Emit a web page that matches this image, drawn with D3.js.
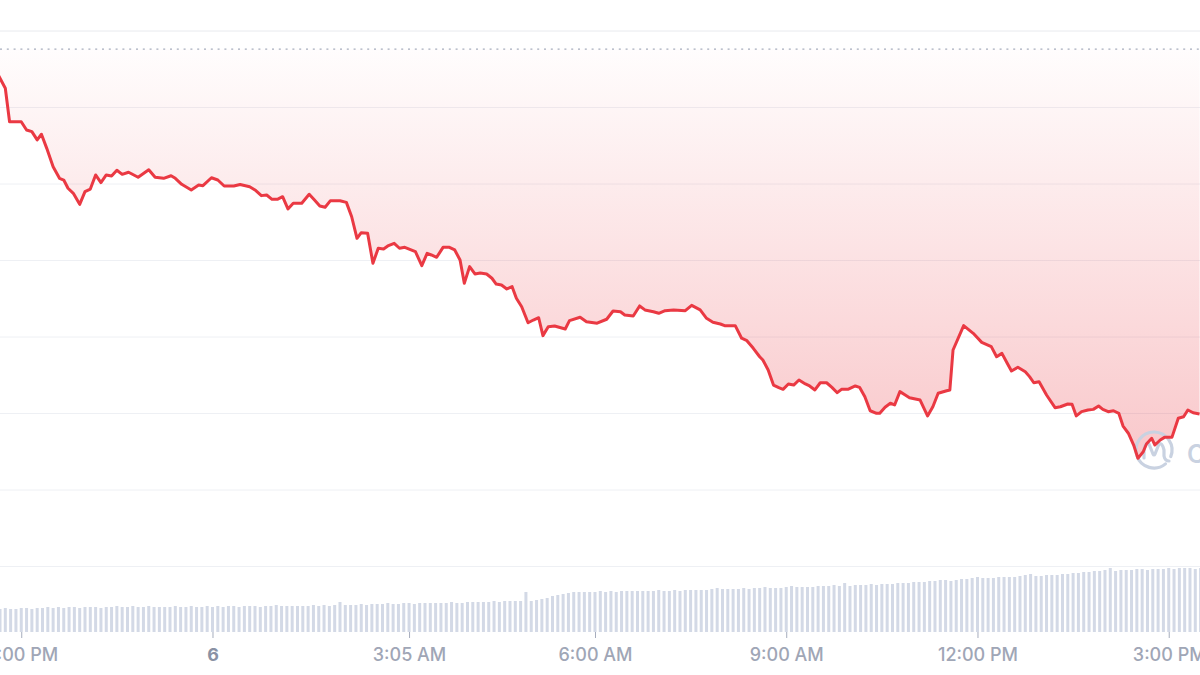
<!DOCTYPE html>
<html>
<head>
<meta charset="utf-8">
<script src="https://cdn.jsdelivr.net/npm/d3@7"></script>
<style>
  html, body { margin: 0; padding: 0; background: #fff; overflow: hidden; }
  #chart { width: 1200px; height: 675px; }
</style>
</head>
<body>
<div id="chart"></div>
<script>

// price path, times (20:xx - 23:xx is the 5th, the rest the 6th)
var priceTimes = ["20:35","20:40","20:45","20:49","21:00","21:05","21:10","21:15","21:19","21:24",
  "21:30","21:36","21:40","21:44","21:49","21:55","22:00","22:05","22:10","22:15",
  "22:20","22:25","22:30","22:35","22:41","22:50","23:00","23:06","23:14","23:21",
  "23:25","23:31","23:40","23:47","23:51","23:59","00:05","00:11","00:20","00:26",
  "00:35","00:40","00:46","00:51","00:56","01:01","01:06","01:11","01:16","01:24",
  "01:31","01:36","01:41","01:46","01:51","02:00","02:06","02:11","02:16","02:20",
  "02:26","02:31","02:36","02:41","02:45","02:51","02:56","03:01","03:11","03:17",
  "03:22","03:26","03:31","03:37","03:43","03:48","03:53","03:57","04:02","04:07",
  "04:12","04:18","04:23","04:27","04:32","04:37","04:42","04:46","04:51","04:57",
  "05:02","05:07","05:11","05:16","05:22","05:32","05:36","05:46","05:52","06:02",
  "06:11","06:17","06:24","06:28","06:36","06:42","06:47","06:55","07:00","07:06",
  "07:14","07:25","07:31","07:39","07:45","07:51","07:58","08:02","08:12","08:18",
  "08:23","08:29","08:35","08:38","08:43","08:48","08:53","08:57","09:02","09:07",
  "09:12","09:18","09:22","09:27","09:32","09:38","09:43","09:48","09:52","09:58",
  "10:05","10:09","10:14","10:19","10:25","10:28","10:33","10:38","10:42","10:47",
  "10:52","10:56","11:06","11:13","11:18","11:23","11:31","11:34","11:37","11:47",
  "11:56","12:04","12:13","12:18","12:23","12:28","12:32","12:38","12:45","12:49",
  "12:53","12:58","13:05","13:13","13:18","13:25","13:29","13:33","13:38","13:44",
  "13:49","13:54","13:58","14:03","14:08","14:13","14:17","14:22","14:27","14:31",
  "14:36","14:39","14:44","14:47","14:52","14:56","15:03","15:09","15:14","15:18",
  "15:23","15:29"];

var prices = [23.758,23.691,23.626,23.407,23.407,23.353,23.342,23.288,23.325,23.233,
  23.113,23.037,23.026,22.972,22.939,22.867,22.950,22.967,23.059,23.009,
  23.059,23.052,23.090,23.063,23.077,23.044,23.093,23.044,23.037,23.054,
  23.037,22.998,22.961,22.993,22.989,23.041,23.026,22.987,22.987,22.997,
  22.982,22.961,22.924,22.928,22.900,22.900,22.917,22.837,22.874,22.874,
  22.933,22.895,22.856,22.848,22.891,22.891,22.880,22.786,22.645,22.682,
  22.678,22.482,22.580,22.575,22.595,22.612,22.580,22.586,22.558,22.466,
  22.547,22.536,22.521,22.586,22.586,22.569,22.503,22.351,22.460,22.412,
  22.418,22.412,22.384,22.346,22.340,22.314,22.329,22.253,22.198,22.093,
  22.111,22.126,22.009,22.067,22.072,22.052,22.107,22.129,22.100,22.090,
  22.116,22.170,22.165,22.144,22.137,22.203,22.177,22.165,22.155,22.172,
  22.177,22.172,22.207,22.177,22.122,22.096,22.085,22.074,22.074,21.992,
  21.976,21.926,21.871,21.850,21.784,21.686,21.669,21.658,21.693,21.686,
  21.719,21.693,21.680,21.654,21.701,21.701,21.671,21.636,21.658,21.658,
  21.680,21.671,21.610,21.518,21.501,21.501,21.541,21.567,21.556,21.643,
  21.621,21.603,21.588,21.484,21.544,21.632,21.649,21.654,21.915,22.074,
  22.024,21.965,21.937,21.871,21.893,21.828,21.778,21.802,21.773,21.741,
  21.701,21.708,21.621,21.538,21.544,21.562,21.560,21.484,21.512,21.523,
  21.527,21.549,21.527,21.512,21.518,21.501,21.418,21.371,21.294,21.207,
  21.250,21.301,21.338,21.294,21.327,21.344,21.344,21.469,21.479,21.523,
  21.505,21.497];

var openPrice = 23.882;   // dotted reference line
var gridPrices = [24.0, 23.5, 23.0, 22.5, 22.0, 21.5, 21.0, 20.5];

// volume, one bar every 5 minutes from 20:35 to 15:30
var volumes = [2.3,2.3,2.4,2.3,2.3,2.4,2.4,2.3,2.4,2.4,2.5,
  2.4,2.5,2.4,2.5,2.5,2.4,2.5,2.5,2.5,2.4,
  2.5,2.5,2.6,2.5,2.5,2.6,2.5,2.5,2.6,2.5,
  2.5,2.5,2.5,2.6,2.5,2.5,2.6,2.5,2.5,2.6,
  2.5,2.6,2.5,2.6,2.6,2.5,2.6,2.6,2.6,2.5,
  2.6,2.6,2.7,2.6,2.6,2.6,2.6,2.6,2.6,2.7,
  2.6,2.7,2.6,2.7,3.0,2.7,2.7,2.7,2.8,2.7,
  2.8,2.8,2.8,2.9,2.8,2.8,2.9,2.9,2.8,2.9,
  2.9,2.9,2.9,2.9,2.9,3.0,2.9,2.9,3.0,3.0,
  3.0,3.0,3.0,3.1,3.0,3.1,3.1,3.1,3.1,4.0,
  3.1,3.2,3.3,3.4,3.6,3.7,3.8,3.9,4.0,4.0,
  4.0,4.0,4.0,4.1,4.0,4.1,4.0,4.1,4.1,4.1,
  4.1,4.1,4.1,4.1,4.2,4.1,4.1,4.2,4.1,4.2,
  4.2,4.2,4.2,4.2,4.3,4.4,4.3,4.3,4.3,4.3,
  4.4,4.3,4.4,4.4,4.5,4.4,4.4,4.4,4.5,4.6,
  4.5,4.5,4.5,4.5,4.6,4.6,4.6,4.7,4.6,4.9,
  4.6,4.7,4.7,4.7,4.8,4.7,4.8,4.8,4.8,4.9,
  4.9,4.9,5.0,5.0,5.0,5.1,5.1,5.2,5.2,5.1,
  5.2,5.3,5.3,5.4,5.5,5.4,5.4,5.4,5.5,5.5,
  5.5,5.5,5.6,5.7,5.8,5.6,5.6,5.7,5.7,5.7,
  5.8,5.8,5.9,5.9,6.0,6.0,6.1,6.1,6.2,6.4,
  6.1,6.2,6.2,6.2,6.3,6.3,6.2,6.3,6.3,6.3,
  6.4,6.3,6.4,6.4,6.4,6.3,6.4];

var tickTimes = ["21:00","00:00","03:05","06:00","09:00","12:00","15:00"];
var tickLabels = ["9:00 PM","6","3:05 AM","6:00 AM","9:00 AM","12:00 PM","3:00 PM"];


function parseT(s){
    var h = +s.slice(0, 2), m = +s.slice(3, 5);
    return new Date(2023, 2, h >= 20 ? 5 : 6, h, m);
}

var width = 1200, height = 675;
var red = "#ea3943";

var svg = d3.select("#chart").append("svg")
    .attr("width", width)
    .attr("height", height);

var x = d3.scaleTime()
    .domain([parseT("20:40"), parseT("15:30")])
    .range([0, 1200.6]);

var y = d3.scaleLinear()
    .domain([20.5, 24.0])
    .range([566.5, 31]);

var vol = d3.scaleLinear()
    .domain([0, 8])
    .range([632, 552]);

var data = priceTimes.map(function(t, i){ return {t: parseT(t), p: prices[i]}; });

// gradient under the line
var defs = svg.append("defs");
var grad = defs.append("linearGradient")
    .attr("id", "redFill")
    .attr("gradientUnits", "userSpaceOnUse")
    .attr("x1", 0).attr("x2", 0)
    .attr("y1", y(openPrice)).attr("y2", 460);
grad.append("stop").attr("offset", 0).attr("stop-color", red).attr("stop-opacity", 0.01);
grad.append("stop").attr("offset", 1).attr("stop-color", red).attr("stop-opacity", 0.28);

// horizontal grid
svg.append("g").selectAll("line")
    .data(gridPrices)
    .enter().append("line")
    .attr("x1", 0).attr("x2", width)
    .attr("y1", d => y(d)).attr("y2", d => y(d))
    .attr("stroke", (d, i) => i == 0 ? "#e8eaee" : "#eef0f4")
    .attr("stroke-width", 1);

// area between open price and the line
var area = d3.area()
    .x(d => x(d.t))
    .y0(y(openPrice))
    .y1(d => y(d.p));

svg.append("path")
    .datum(data)
    .attr("d", area)
    .attr("fill", "url(#redFill)");

// dotted open price line
svg.append("line")
    .attr("x1", 0).attr("x2", width)
    .attr("y1", y(openPrice)).attr("y2", y(openPrice))
    .attr("stroke", "#a6adbd")
    .attr("stroke-width", 1.3)
    .attr("stroke-dasharray", "2,4.8");

// watermark
var wm = svg.append("g")
    .attr("transform", "translate(1154,450)")
    .attr("fill", "none")
    .attr("stroke", "#c9d2e1")
    .attr("stroke-width", 3.2)
    .attr("stroke-linecap", "round")
    .attr("stroke-linejoin", "round");
var ring = d3.path();
ring.arc(0, 0, 18, Math.PI * 0.28, Math.PI * 2.12);
wm.append("path").attr("d", ring.toString());
wm.append("path").attr("d", "M-10,8 L-10,0 Q-9,-8 -5,-6 L-1,4 Q0,6 1,4 L5,-6 Q8,-8 10,0 L10,6 Q11,11 15,11");
svg.append("text")
    .attr("x", 1187).attr("y", 463)
    .attr("font-family", "Inter, sans-serif")
    .attr("font-size", 25)
    .attr("font-weight", 600)
    .attr("fill", "#c9d2e1")
    .text("CoinMarketCap");

// price line
var line = d3.line()
    .x(d => x(d.t))
    .y(d => y(d.p));

svg.append("path")
    .datum(data)
    .attr("d", line)
    .attr("fill", "none")
    .attr("stroke", red)
    .attr("stroke-width", 3)
    .attr("stroke-linejoin", "round");

// volume bars
var barTimes = d3.timeMinute.every(5).range(parseT("20:35"), parseT("15:35"));
svg.append("g").selectAll("rect")
    .data(volumes)
    .enter().append("rect")
    .attr("x", (d, i) => x(barTimes[i]) - 1.5)
    .attr("width", 3)
    .attr("y", d => vol(d))
    .attr("height", d => vol(0) - vol(d))
    .attr("fill", "#d3d9e6");

// time axis
var xAxis = d3.axisBottom(x)
    .tickValues(tickTimes.map(parseT))
    .tickSize(6)
    .tickPadding(10)
    .tickFormat((d, i) => tickLabels[i]);

var ax = svg.append("g")
    .attr("transform", "translate(0,632)")
    .call(xAxis);

ax.select(".domain").remove();
ax.selectAll(".tick line").attr("stroke", "#a6adbd");
ax.selectAll(".tick text")
    .attr("font-family", "Inter, sans-serif")
    .attr("font-size", 18)
    .attr("font-weight", (d, i) => tickLabels[i] == "6" ? 700 : 500)
    .attr("fill", (d, i) => tickLabels[i] == "6" ? "#8a92a4" : "#a0a6b6");

</script>
</body>
</html>
